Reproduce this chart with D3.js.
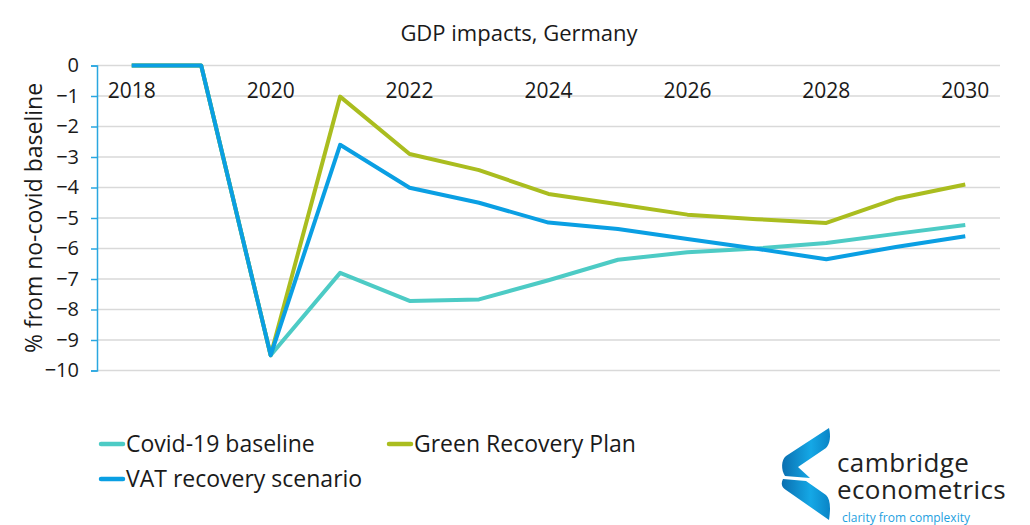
<!DOCTYPE html>
<html>
<head>
<meta charset="utf-8" />
<title>GDP impacts, Germany</title>
<style>
  body { margin: 0; background: #fff; }
  text { font-family: "Open Sans", "Noto Sans", sans-serif; fill: #1a1a1a; }
  .grid line { stroke: #d9d9d9; stroke-width: 1.5; }
</style>
</head>
<body>
<div id="chart"></div>
<script src="https://cdn.jsdelivr.net/npm/d3@7"></script>
<script>
// data
var years = ["2018","2019","2020","2021","2022","2023","2024","2025","2026","2027","2028","2029","2030"];
var yearLabels = ["2018","2020","2022","2024","2026","2028","2030"];
var yTicks = [0,-1,-2,-3,-4,-5,-6,-7,-8,-9,-10];
var covidBaseline = [0, 0, -9.5, -6.8, -7.72, -7.67, -7.04, -6.37, -6.12, -6.0, -5.82, -5.52, -5.23];
var greenRecovery = [0, 0, -9.5, -1.02, -2.9, -3.43, -4.21, -4.55, -4.89, -5.04, -5.16, -4.37, -3.9];
var vatRecovery   = [0, 0, -9.5, -2.6, -4.01, -4.5, -5.15, -5.36, -5.69, -6.01, -6.35, -5.95, -5.6];

var series = [
  {name: "Covid-19 baseline", values: covidBaseline, color: "#4dcbc5"},
  {name: "Green Recovery Plan", values: greenRecovery, color: "#aabd1f"},
  {name: "VAT recovery scenario", values: vatRecovery, color: "#0a9fe3"}
];

var W = 1030, H = 525;
var plot = {left: 97, right: 1000, top: 65.5, bottom: 370.5};

var svg = d3.select("#chart").append("svg")
    .attr("width", W)
    .attr("height", H);

var x = d3.scaleBand().domain(years).range([plot.left, plot.right]);
var y = d3.scaleLinear().domain([-10, 0]).range([plot.bottom, plot.top]);

// title
svg.append("text")
    .attr("x", 519).attr("y", 41)
    .attr("text-anchor", "middle")
    .style("font-size", "22px")
    .text("GDP impacts, Germany");

// gridlines
svg.append("g").attr("class", "grid")
  .selectAll("line")
  .data(yTicks)
  .join("line")
    .attr("x1", plot.left).attr("x2", plot.right)
    .attr("y1", d => y(d)).attr("y2", d => y(d));

// y axis
var yAxis = d3.axisLeft(y).tickValues(yTicks).tickSize(6).tickFormat(d3.format("d"));
var gy = svg.append("g")
    .attr("transform", "translate(" + plot.left + ",0)")
    .call(yAxis);
gy.select(".domain").attr("stroke", "#2aa7e0").attr("stroke-width", 1.5);
gy.selectAll(".tick line").attr("stroke", "#2aa7e0").attr("stroke-width", 1.5);
gy.selectAll(".tick text")
    .attr("x", -18)
    .style("font-size", "20px")
    .style("font-family", "'Open Sans', sans-serif")
    .attr("fill", "#1a1a1a");

// x labels just under zero line
var xAxis = d3.axisBottom(x).tickValues(yearLabels).tickSize(0);
var gx = svg.append("g")
    .attr("transform", "translate(0," + y(0) + ")")
    .call(xAxis);
gx.select(".domain").remove();
gx.selectAll(".tick text")
    .attr("y", 18)
    .style("font-size", "21px")
    .style("font-family", "'Open Sans', sans-serif")
    .attr("fill", "#1a1a1a");

// y axis title
svg.append("text")
    .attr("transform", "translate(42," + ((plot.top + plot.bottom) / 2) + ") rotate(-90)")
    .attr("text-anchor", "middle")
    .style("font-size", "23px")
    .text("% from no-covid baseline");

// lines
var line = d3.line()
    .x((d, i) => x(years[i]) + x.bandwidth() / 2)
    .y(d => y(d));

svg.append("g")
  .selectAll("path")
  .data(series)
  .join("path")
    .attr("fill", "none")
    .attr("stroke", d => d.color)
    .attr("stroke-width", 4)
    .attr("stroke-linejoin", "round")
    .attr("d", d => line(d.values));

// legend
var legendPos = [[101, 444], [389, 444], [101, 479]];
var lg = svg.append("g")
  .selectAll("g")
  .data(series)
  .join("g")
    .attr("transform", (d, i) => "translate(" + legendPos[i][0] + "," + legendPos[i][1] + ")");
lg.append("line")
    .attr("x1", 0).attr("x2", 22)
    .attr("stroke", d => d.color)
    .attr("stroke-width", 4.5)
    .attr("stroke-linecap", "round");
lg.append("text")
    .attr("x", 25).attr("y", 8)
    .style("font-size", "23px")
    .text(d => d.name);

// logo
var defs = svg.append("defs");
var grad = defs.append("linearGradient").attr("id", "logoGrad")
    .attr("x1", "0").attr("y1", "0").attr("x2", "1").attr("y2", "0");
grad.append("stop").attr("offset", "0").attr("stop-color", "#0a6fb0");
grad.append("stop").attr("offset", "0.6").attr("stop-color", "#15a8e6");
grad.append("stop").attr("offset", "1").attr("stop-color", "#0a84c6");

var logo = svg.append("g");
logo.append("path")
    .attr("fill", "url(#logoGrad)")
    .attr("d", "M829,428 C831,436 830,444 826,448 L798,467 L810,478 L785,476 C781,470 781,460 786,456 Z");
logo.append("path")
    .attr("fill", "url(#logoGrad)")
    .attr("d", "M783,479 L806,481 L826,495 C830,499 831,507 829,520 L786,490 C781,487 781,483 783,479 Z");

logo.append("text")
    .attr("x", 837).attr("y", 472)
    .style("font-size", "26px")
    .style("letter-spacing", "0.4px")
    .style("fill", "#222")
    .text("cambridge");
logo.append("text")
    .attr("x", 837).attr("y", 499)
    .style("font-size", "26px")
    .style("letter-spacing", "0.4px")
    .style("fill", "#222")
    .text("econometrics");
logo.append("text")
    .attr("x", 842).attr("y", 522)
    .style("font-size", "12px")
    .style("fill", "#1e9fe0")
    .text("clarity from complexity");
</script>
</body>
</html>
